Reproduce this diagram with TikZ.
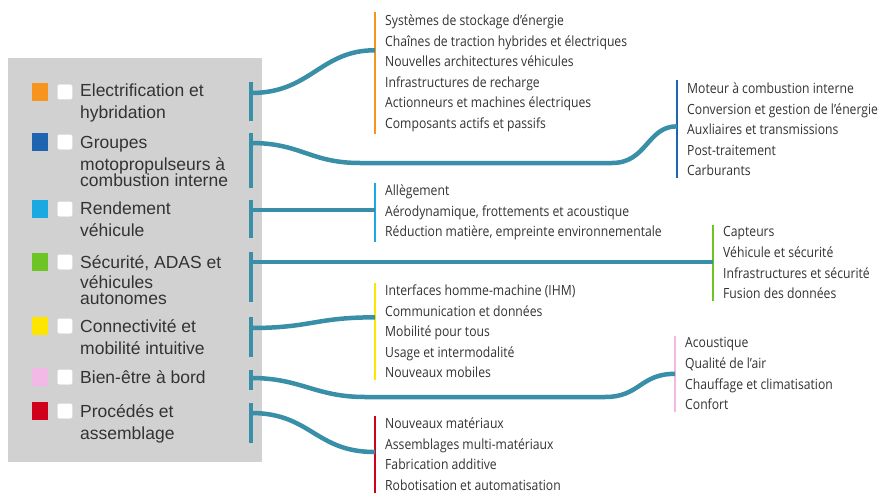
\documentclass[tikz,border=0pt]{standalone}
\usepackage{fontspec}
\setmainfont{Liberation Sans}
\newfontfamily\itemfont[FakeStretch=0.87]{Open Sans}
\usetikzlibrary{positioning}

\definecolor{panelgray}{HTML}{D1D1D1}
\definecolor{link}{HTML}{3A8FA8}
\definecolor{textgray}{HTML}{333333}
\definecolor{celec}{HTML}{F7941D}
\definecolor{cgroup}{HTML}{1E64B0}
\definecolor{crend}{HTML}{1BA9E1}
\definecolor{csecu}{HTML}{6CC524}
\definecolor{cconn}{HTML}{FFE600}
\definecolor{cbien}{HTML}{F2B8E6}
\definecolor{cproc}{HTML}{D0021B}

\begin{document}
\begin{tikzpicture}[x=1pt,y=-1pt]
\tikzstyle{swatch}=[rectangle, minimum width=16, minimum height=18, inner sep=0]
\tikzstyle{checkbox}=[rectangle, rounded corners=2, minimum size=15, inner sep=0, fill=white, draw=black!12]
\tikzstyle{topic}=[anchor=north west, inner sep=0, align=left, text=textgray, font=\fontsize{17.5}{22}\selectfont]
\tikzstyle{items}=[anchor=north west, inner xsep=10, inner ysep=2, align=left, text=textgray, font=\itemfont\fontsize{14}{20.6}\selectfont]
\tikzstyle{stub}=[line width=4.5, draw=link]
\tikzstyle{connect}=[line width=4.5, draw=link]
\tikzstyle{itembar}=[line width=2]
  \useasboundingbox (0,0) rectangle (885,492);
  \fill[panelgray] (8,58) rectangle (262,462);
  % topics
  \node[swatch, fill=celec] (sw1) at (40,92) {};
  \node[checkbox, right=9pt of sw1] (cb1) {};
  \node[topic] (elec) at (80,84) {Electrification et\\hybridation};
  \node[swatch, fill=cgroup] (sw2) at (40,142) {};
  \node[checkbox, right=9pt of sw2] (cb2) {};
  \node[topic] (group) at (80,136) {Groupes\\motopropulseurs à\\[-6pt]combustion interne};
  \node[swatch, fill=crend] (sw3) at (40,209) {};
  \node[checkbox, right=9pt of sw3] (cb3) {};
  \node[topic] (rend) at (80,202) {Rendement\\véhicule};
  \node[swatch, fill=csecu] (sw4) at (40,262) {};
  \node[checkbox, right=9pt of sw4] (cb4) {};
  \node[topic] (secu) at (80,255) {Sécurité, ADAS et\\[-2pt]véhicules\\[-6pt]autonomes};
  \node[swatch, fill=cconn] (sw5) at (40,326) {};
  \node[checkbox, right=9pt of sw5] (cb5) {};
  \node[topic] (conn) at (80,319) {Connectivité et\\mobilité intuitive};
  \node[swatch, fill=cbien] (sw6) at (40,377) {};
  \node[checkbox, right=9pt of sw6] (cb6) {};
  \node[topic] (bien) at (80,370) {Bien-être à bord};
  \node[swatch, fill=cproc] (sw7) at (40,411) {};
  \node[checkbox, right=9pt of sw7] (cb7) {};
  \node[topic] (proc) at (80,404) {Procédés et\\assemblage};
  % stubs on the panel edge
  \draw[stub] (251,82) -- (251,121);
  \draw[stub] (251,133) -- (251,188);
  \draw[stub] (251,200) -- (251,238);
  \draw[stub] (251,252) -- (251,302);
  \draw[stub] (251,317) -- (251,357);
  \draw[stub] (251,370) -- (251,390);
  \draw[stub] (251,403) -- (251,443);
  \coordinate (e1) at (251,93);
  \coordinate (e2) at (251,143);
  \coordinate (e3) at (251,210);
  \coordinate (e4) at (251,262);
  \coordinate (e5) at (251,328);
  \coordinate (e6) at (251,378);
  \coordinate (e7) at (251,413);
  % item lists
  \node[items] (elecitems) at (375,12.5) {Systèmes de stockage d’énergie\\Chaînes de traction hybrides et électriques\\Nouvelles architectures véhicules\\Infrastructures de recharge\\Actionneurs et machines électriques\\Composants actifs et passifs};
  \node[items] (groupitems) at (677,80.5) {Moteur à combustion interne\\Conversion et gestion de l’énergie\\Auxliaires et transmissions\\Post-traitement\\Carburants};
  \node[items] (renditems) at (375,182.5) {Allègement\\Aérodynamique, frottements et acoustique\\Réduction matière, empreinte environnementale};
  \node[items] (secuitems) at (713,224.5) {Capteurs\\Véhicule et sécurité\\Infrastructures et sécurité\\Fusion des données};
  \node[items] (connitems) at (375,282.5) {Interfaces homme-machine (IHM)\\Communication et données\\Mobilité pour tous\\Usage et intermodalité\\Nouveaux mobiles};
  \node[items] (bienitems) at (675,335.5) {Acoustique\\Qualité de l’air\\Chauffage et climatisation\\Confort};
  \node[items] (procitems) at (375,415.5) {Nouveaux matériaux\\Assemblages multi-matériaux\\Fabrication additive\\Robotisation et automatisation};
  \draw[itembar, celec] (elecitems.north west) -- (elecitems.south west);
  \draw[itembar, cgroup] (groupitems.north west) -- (groupitems.south west);
  \draw[itembar, crend] (renditems.north west) -- (renditems.south west);
  \draw[itembar, csecu] (secuitems.north west) -- (secuitems.south west);
  \draw[itembar, cconn] (connitems.north west) -- (connitems.south west);
  \draw[itembar, cbien] (bienitems.north west) -- (bienitems.south west);
  \draw[itembar, cproc] (procitems.north west) -- (procitems.south west);
  % connectors
  \draw[connect] (e1) .. controls +(60,0) and +(-55,0) .. ([yshift=23pt]elecitems.west);
  \draw[connect] (e2) .. controls +(50,0) and +(-50,0) .. (360,163) -- (612,163) .. controls +(35,0) and +(-30,0) .. ([yshift=3pt]groupitems.west);
  \draw[connect] (e3) -- (e3 -| renditems.west);
  \draw[connect] (e4) -- (e4 -| secuitems.west);
  \draw[connect] (e5) .. controls +(60,0) and +(-60,0) .. ([yshift=14pt]connitems.west);
  \draw[connect] (e6) .. controls +(50,0) and +(-50,0) .. (365,397) -- (605,397) .. controls +(35,0) and +(-35,0) .. (bienitems.west);
  \draw[connect] (e7) .. controls +(60,0) and +(-60,0) .. ([yshift=2pt]procitems.west);
\end{tikzpicture}
\end{document}
